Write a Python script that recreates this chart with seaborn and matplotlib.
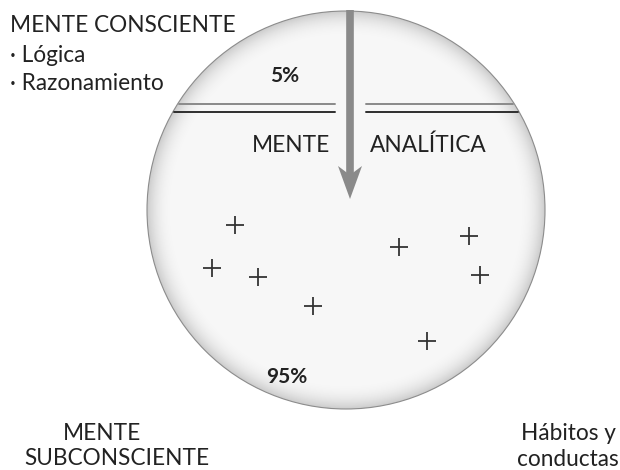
import numpy as np
import pandas as pd
import matplotlib
matplotlib.use("Agg")
import matplotlib.pyplot as plt
from matplotlib.patches import Circle, Polygon
import seaborn as sns

# porcentajes de cada zona
pct_consciente = 5
pct_subconsciente = 95

# posiciones de las cruces (habitos) en pixeles de la imagen
cruz_x = [235, 212, 258, 313, 399, 469, 480, 427]
cruz_y = [225, 268, 277, 306, 247, 236, 275, 341]

sns.set_style("white")
plt.rcParams["font.family"] = ["Lato", "DejaVu Sans"]

W, H = 620, 470
fig = plt.figure(figsize=(6.2, 4.7), dpi=100)
ax = fig.add_axes([0, 0, 1, 1])

cx, cy, R = 346, 210, 199

# degradado radial con circulos concentricos: gris en el borde, casi blanco dentro
for t in np.linspace(0, 1, 60):
    r = R * (1 - 0.14 * t)
    g = 0.80 + (0.97 - 0.80) * (1 - (1 - t) ** 2.5)
    ax.add_patch(Circle((cx, cy), r, fc=(g, g, g), ec="none", zorder=1))
ax.add_patch(Circle((cx, cy), R, fill=False, ec="#8c8c8c", lw=0.8, zorder=2))

# lineas dobles que separan consciente / subconsciente
for yl, col in [(104, "#8a8a8a"), (112, "#2e2e2e")]:
    half = np.sqrt(R ** 2 - (yl - cy) ** 2)
    ax.plot([cx - half + 1, 335], [yl, yl], color=col, lw=1.4, zorder=3)
    ax.plot([366, cx + half - 1], [yl, yl], color=col, lw=1.4, zorder=3)

# flecha de la mente analitica
ax.plot([350, 350], [10, 176], color="#8a8a8a", lw=5.5, solid_capstyle="butt", zorder=4)
ax.add_patch(Polygon([(350, 199), (338, 166), (350, 175), (362, 166)], closed=True,
                     fc="#8a8a8a", ec="none", zorder=4))

# cruces
df = pd.DataFrame({"x": cruz_x, "y": cruz_y})
sns.scatterplot(data=df, x="x", y="y", marker="+", s=150, color="#333333",
                linewidth=1.3, ax=ax, zorder=5, legend=False)

ax.set_xlim(0, W)
ax.set_ylim(H, 0)
ax.set_aspect("equal")
ax.axis("off")

tc = "#222222"
fs = 16.3
ax.text(10, 32, "MENTE CONSCIENTE", fontsize=fs, color=tc, va="baseline", ha="left")
ax.text(10, 62, "· Lógica", fontsize=fs, color=tc, va="baseline", ha="left")
ax.text(10, 90, "· Razonamiento", fontsize=fs, color=tc, va="baseline", ha="left")
ax.text(285, 82, f"{pct_consciente}%", fontsize=15, fontweight="bold", color=tc,
        ha="center", va="baseline")
ax.text(330, 152, "MENTE", fontsize=fs, color=tc, ha="right", va="baseline")
ax.text(370, 152, "ANALÍTICA", fontsize=fs, color=tc, ha="left", va="baseline")
ax.text(287, 383, f"{pct_subconsciente}%", fontsize=15, fontweight="bold", color=tc,
        ha="center", va="baseline")
ax.text(102, 440, "MENTE", fontsize=fs, color=tc, ha="center", va="baseline")
ax.text(117, 465, "SUBCONSCIENTE", fontsize=fs, color=tc, ha="center", va="baseline")
ax.text(568, 440, "Hábitos y", fontsize=fs, color=tc, ha="center", va="baseline")
ax.text(568, 466, "conductas", fontsize=fs, color=tc, ha="center", va="baseline")

fig.savefig("out.png", dpi=100, facecolor="white")
plt.close(fig)
